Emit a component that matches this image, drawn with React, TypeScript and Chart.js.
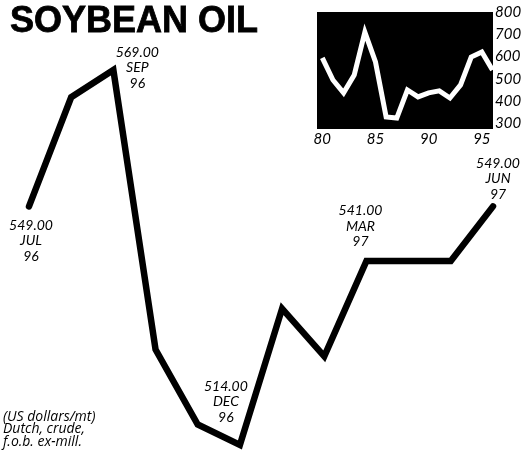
import React, { useEffect, useRef } from 'react';
import { Chart, registerables } from 'chart.js';

Chart.register(...registerables);

// ---- Main chart data (monthly, Jul 96 - Jun 97) ----
const months = ['JUL', 'AUG', 'SEP', 'OCT', 'NOV', 'DEC', 'JAN', 'FEB', 'MAR', 'APR', 'MAY', 'JUN'];
const monthYears = ['96', '96', '96', '96', '96', '96', '97', '97', '97', '97', '97', '97'];
const prices = [549, 565, 569, 528, 517, 514, 534, 527, 541, 541, 541, 549];
const labelledPoints = [0, 2, 5, 8, 11];

// ---- Inset chart data (annual, 1980 - 1996) ----
const insetYears = [80, 81, 82, 83, 84, 85, 86, 87, 88, 89, 90, 91, 92, 93, 94, 95, 96];
const insetPrices = [594, 495, 437, 517, 710, 576, 329, 324, 450, 419, 437, 446, 414, 473, 598, 621, 540];
const insetYTicks = [300, 400, 500, 600, 700, 800];
const insetXTicks = [80, 85, 90, 95];

const titleText = 'SOYBEAN OIL';
const noteLines = ['(US dollars/mt)', 'Dutch, crude,', 'f.o.b. ex-mill.'];

const SMALL_FONT = "'Lato', 'Open Sans', sans-serif";
const NOTE_FONT = "'Open Sans', 'Lato', sans-serif";

export default function App() {
  const mainRef = useRef<HTMLCanvasElement | null>(null);
  const insetRef = useRef<HTMLCanvasElement | null>(null);

  useEffect(() => {
    document.body.style.margin = '0';
    const labelOffsets: [number, number][] = [
      [2, 19],
      [24, -18],
      [-14, -59],
      [-6, -50],
      [5, -43],
    ];

    const textPlugin = {
      id: 'textPlugin',
      afterDatasetsDraw(chart: any) {
        const ctx = chart.ctx as CanvasRenderingContext2D;
        const meta = chart.getDatasetMeta(0);
        ctx.save();
        // title
        ctx.fillStyle = '#000';
        ctx.font = "bold 36px 'Liberation Sans', Arial, sans-serif";
        ctx.textAlign = 'left';
        ctx.textBaseline = 'alphabetic';
        ctx.fillText(titleText, 10, 32);
        ctx.strokeStyle = '#000';
        ctx.lineWidth = 0.8;
        ctx.strokeText(titleText, 10, 32);
        // point annotations
        ctx.font = `italic 14px ${SMALL_FONT}`;
        ctx.textAlign = 'center';
        ctx.textBaseline = 'middle';
        labelledPoints.forEach((idx, k) => {
          const pt = meta.data[idx];
          const [dx, dy] = labelOffsets[k];
          const lines = [prices[idx].toFixed(2), months[idx], monthYears[idx]];
          lines.forEach((line, j) => {
            ctx.fillText(line, pt.x + dx, pt.y + dy + j * 15.5);
          });
        });
        // footnote
        ctx.font = `italic 14px ${NOTE_FONT}`;
        ctx.textAlign = 'left';
        noteLines.forEach((line, j) => {
          ctx.fillText(line, 3, 417 + j * 12.5);
        });
        ctx.restore();
      },
    };

    const main = new Chart(mainRef.current!, {
      type: 'line',
      data: {
        labels: months,
        datasets: [
          {
            data: prices,
            borderColor: '#000',
            borderWidth: 6.5,
            borderJoinStyle: 'miter',
            borderCapStyle: 'round',
            pointRadius: 0,
            tension: 0,
            fill: false,
            clip: false as any,
          },
        ],
      },
      options: {
        animation: false,
        responsive: false,
        layout: { padding: { left: 29, right: 29, top: 70, bottom: 14 } },
        plugins: { legend: { display: false }, tooltip: { enabled: false }, title: { display: false } },
        scales: {
          x: { type: 'category', display: false, offset: false },
          y: { type: 'linear', display: false, min: 514, max: 569 },
        },
      },
      plugins: [textPlugin],
    });

    const bgPlugin = {
      id: 'insetBg',
      beforeDatasetsDraw(chart: any) {
        const { ctx, chartArea } = chart;
        ctx.save();
        ctx.fillStyle = '#000';
        ctx.fillRect(chartArea.left, chartArea.top, chartArea.right - chartArea.left, chartArea.bottom - chartArea.top);
        ctx.restore();
      },
    };

    const zeroPad = (scale: any) => {
      scale.paddingTop = 0;
      scale.paddingBottom = 0;
      scale.paddingLeft = 0;
      scale.paddingRight = 0;
    };

    const inset = new Chart(insetRef.current!, {
      type: 'line',
      data: {
        datasets: [
          {
            data: insetYears.map((yr, i) => ({ x: yr, y: insetPrices[i] })),
            borderColor: '#fff',
            borderWidth: 5,
            borderJoinStyle: 'miter',
            pointRadius: 0,
            tension: 0,
            fill: false,
          },
        ],
      },
      options: {
        animation: false,
        responsive: false,
        layout: { padding: { left: 17, top: 12, right: 0, bottom: 0 } },
        plugins: { legend: { display: false }, tooltip: { enabled: false } },
        scales: {
          x: {
            type: 'linear',
            min: 79.5,
            max: 96.05,
            grid: { display: false, drawTicks: false },
            border: { display: false },
            ticks: {
              color: '#000',
              padding: 1,
              maxRotation: 0,
              font: { family: SMALL_FONT, size: 15, style: 'italic' },
              callback: (v: any) => String(v),
            },
            afterBuildTicks: (scale: any) => {
              scale.ticks = insetXTicks.map((v) => ({ value: v }));
            },
            afterFit: (scale: any) => {
              scale.height = 23;
              zeroPad(scale);
            },
          },
          y: {
            type: 'linear',
            position: 'right',
            min: 275,
            max: 800,
            grid: { display: false, drawTicks: false },
            border: { display: false },
            ticks: {
              color: '#000',
              padding: 2,
              font: { family: SMALL_FONT, size: 15, style: 'italic' },
              callback: (v: any) => String(v),
            },
            afterBuildTicks: (scale: any) => {
              scale.ticks = insetYTicks.map((v) => ({ value: v }));
            },
            afterFit: (scale: any) => {
              scale.width = 29;
              zeroPad(scale);
            },
          },
        },
      },
      plugins: [bgPlugin],
    });

    return () => {
      main.destroy();
      inset.destroy();
    };
  }, []);

  return (
    <div style={{ position: 'absolute', left: 0, top: 0, width: 522, height: 459, background: '#fff', overflow: 'hidden' }}>
      <canvas ref={mainRef} width={522} height={459} style={{ position: 'absolute', left: 0, top: 0, width: 522, height: 459 }} />
      <canvas ref={insetRef} width={222} height={152} style={{ position: 'absolute', left: 300, top: 0, width: 222, height: 152 }} />
    </div>
  );
}
